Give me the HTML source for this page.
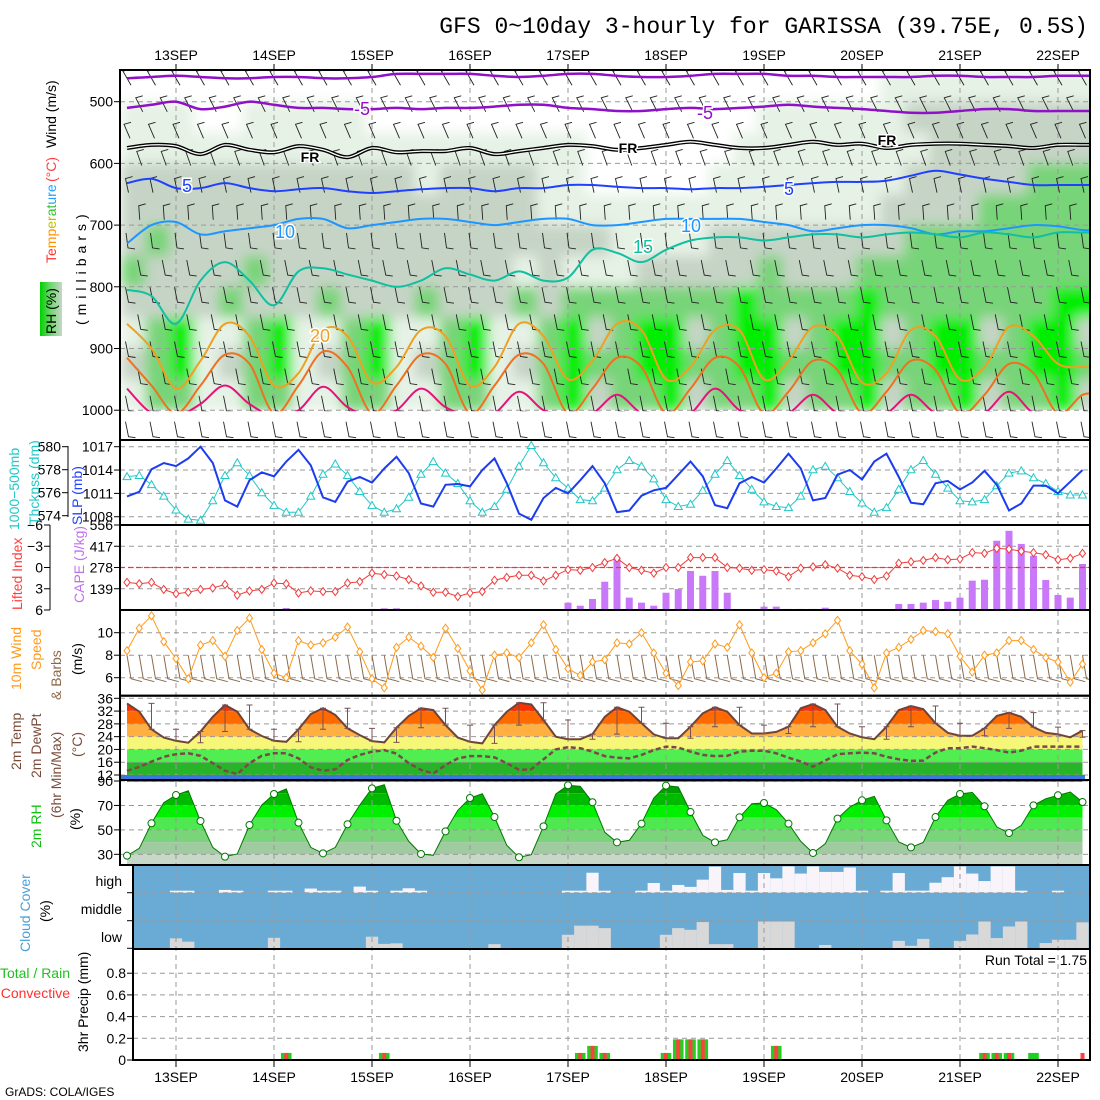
<!DOCTYPE html>
<html><head><meta charset="utf-8"><title>GFS meteogram GARISSA</title>
<style>
html,body{margin:0;padding:0;background:#fff;}
svg{display:block;font-family:"Liberation Sans",sans-serif;}
.t{font-size:14px;fill:#000;}
</style></head>
<body>
<svg id="chart" xmlns="http://www.w3.org/2000/svg" width="1100" height="1100" viewBox="0 0 1100 1100">
<defs>
<clipPath id="cpTop"><rect x="120" y="70" width="970" height="370"/></clipPath>
<clipPath id="cpShade"><rect x="120" y="70" width="970" height="340"/></clipPath>
<clipPath id="cpPanels"><rect x="120" y="440" width="970" height="430"/></clipPath>
<clipPath id="cpLow"><rect x="133" y="865" width="957" height="195"/></clipPath>
<filter id="blur" x="-5%" y="-5%" width="110%" height="110%"><feGaussianBlur stdDeviation="6"/></filter>
<linearGradient id="rhgrad" x1="0" y1="0" x2="1" y2="0"><stop offset="0" stop-color="#00d000"/><stop offset="0.5" stop-color="#70d870"/><stop offset="1" stop-color="#c8d6c8"/></linearGradient>
</defs>
<rect x="0" y="0" width="1100" height="1100" fill="#fff"/>
<text x="1088" y="33" text-anchor="end" style="font-family:'Liberation Mono',monospace;font-size:23px">GFS 0~10day 3-hourly for GARISSA (39.75E, 0.5S)</text>

<g id="gTop" clip-path="url(#cpTop)"></g>
<g id="gPanels" clip-path="url(#cpPanels)"></g>
<g id="gLow" clip-path="url(#cpLow)"></g>
<g id="gAxes"></g>

<g class="t">
<text transform="translate(56,148) rotate(-90)">Wind (m/s)</text>
<text transform="translate(56,182) rotate(-90)" fill="#ff4040">(°C)</text>
<text transform="translate(56,263) rotate(-90)"><tspan fill="#ff3030">Te</tspan><tspan fill="#ff9000">mp</tspan><tspan fill="#c0c000">er</tspan><tspan fill="#30c030">at</tspan><tspan fill="#20a0ff">ure</tspan></text>
<rect x="40" y="282" width="22" height="54" fill="url(#rhgrad)"/>
<text transform="translate(56,334) rotate(-90)">RH (%)</text>
<text transform="translate(86,325) rotate(-90)" letter-spacing="5">(millibars)</text>
<text transform="translate(19,530) rotate(-90)" fill="#20c8c8">1000−500mb</text>
<text transform="translate(39,525) rotate(-90)" fill="#20c8c8">Thcknss (dm)</text>
<text transform="translate(82,525) rotate(-90)" fill="#2040ff">SLP (mb)</text>
<text transform="translate(22,610) rotate(-90)" fill="#ff4040">Lifted Index</text>
<text transform="translate(84,603) rotate(-90)" fill="#c070f0">CAPE (J/kg)</text>
<text transform="translate(21,690) rotate(-90)" fill="#ff9a1a">10m Wind</text>
<text transform="translate(41,670) rotate(-90)" fill="#ff9a1a">Speed</text>
<text transform="translate(61,700) rotate(-90)" fill="#8b6a4a">&amp; Barbs</text>
<text transform="translate(82,675) rotate(-90)">(m/s)</text>
<text transform="translate(21,770) rotate(-90)" fill="#7a4a3a">2m Temp</text>
<text transform="translate(41,778) rotate(-90)" fill="#7a4a3a">2m DewPt</text>
<text transform="translate(61,818) rotate(-90)" fill="#7a4a3a">(6hr Min/Max)</text>
<text transform="translate(82,757) rotate(-90)" fill="#7a4a3a">(°C)</text>
<text transform="translate(41,848) rotate(-90)" fill="#10c010">2m RH</text>
<text transform="translate(80,830) rotate(-90)">(%)</text>
<text transform="translate(30,952) rotate(-90)" fill="#4aa0d8">Cloud Cover</text>
<text transform="translate(50,922) rotate(-90)">(%)</text>
<text x="122" y="886" text-anchor="end">high</text>
<text x="122" y="914" text-anchor="end">middle</text>
<text x="122" y="942" text-anchor="end">low</text>
<text x="70" y="978" text-anchor="end" fill="#20c020">Total / Rain</text>
<text x="70" y="998" text-anchor="end" fill="#ff3030">Convective</text>
<text transform="translate(88,1052) rotate(-90)">3hr Precip (mm)</text>
<text x="1087" y="965" text-anchor="end">Run Total = 1.75</text>
<text x="5" y="1096" style="font-size:12px">GrADS: COLA/IGES</text>
</g>
</svg>

<script>
// ---------- data ----------
var dayLabels = ["13SEP","14SEP","15SEP","16SEP","17SEP","18SEP","19SEP","20SEP","21SEP","22SEP"];
var slp = [1010.6,1011.2,1014.1,1014.9,1014.5,1015.5,1017,1014.9,1010.1,1009.3,1012.7,1013.7,1013.2,1015.1,1016.6,1014.6,1010.5,1009.9,1012.5,1013.1,1012.4,1014.2,1015.7,1013.6,1009.7,1009.3,1012.1,1012.2,1011.9,1014.0,1015.5,1012.3,1008.4,1007.6,1010.4,1011.7,1011.0,1012.7,1014.5,1012.3,1008.6,1008.8,1010.7,1011.4,1011.7,1013.4,1015.1,1013.2,1009.5,1009.1,1012.3,1013.1,1012.4,1014.2,1016.1,1014.2,1010.1,1010.4,1013.4,1014.0,1012.8,1015.1,1016.1,1013.1,1009.8,1009.6,1012.3,1012.6,1011.5,1012.4,1013.9,1012.1,1008.8,1009.7,1012.0,1012.0,1011.0,1012.5,1014.0];
var thickness = [577.4,577.5,576.7,575.7,574.5,573.7,573.6,575.3,577.5,578.6,577.5,576.0,574.9,574.3,574.3,575.7,577.6,578.5,577.5,576.1,574.9,574.3,574.6,575.6,577.6,578.7,577.7,576.8,575.3,574.3,574.8,576.3,578.3,580.1,578.6,577.3,576.4,575.4,575.3,576.4,578.0,578.8,578.3,577.2,575.4,574.8,575.0,576.2,577.6,578.8,577.5,576.3,575.2,574.8,574.7,575.7,578.0,578.3,577.3,576.1,575.1,574.3,574.7,576.3,578.0,578.8,577.6,576.4,575.3,575.2,575.4,576.6,577.7,577.9,577.3,576.8,576.1,575.8,575.8];
var liftedIndex = [2.1,2.3,2.1,3.1,3.7,3.5,3.1,2.9,2.4,3.9,3.3,3.1,2.2,2.3,3.6,3.3,3.4,3.4,2.2,2.0,0.8,1.0,1.2,1.7,2.6,3.5,3.5,4.1,3.6,3.4,1.8,1.4,1.1,1.1,1.9,1.1,0.3,0.4,0.0,-0.7,-1.3,0.0,0.4,0.8,0.0,0.0,-1.4,-1.4,-1.4,0.0,0.1,0.4,0.3,0.5,1.3,0.1,-0.1,-0.4,0.1,1.1,1.3,1.7,1.2,-0.6,-0.8,-1.0,-1.4,-1.1,-1.2,-2.1,-2.0,-2.7,-2.6,-2.3,-2.1,-1.8,-1.1,-1.3,-2.0];
var cape = [7,0,0,0,7,7,7,0,0,0,0,0,7,13,7,0,0,0,0,0,7,11,11,0,0,0,0,0,0,0,5,0,0,0,0,0,48,28,72,185,345,81,48,28,113,137,255,224,255,113,0,0,22,22,7,7,7,15,0,0,0,0,0,39,39,48,65,54,81,192,198,453,518,432,355,196,98,81,301];
var wind10 = [8.4,10.4,11.5,9.2,7.7,5.9,8.9,9.3,7.9,10.2,11.3,8.5,6.4,6.0,9.3,8.9,9.1,9.6,10.5,8.3,5.9,5.1,8.7,9.6,8.8,7.8,10.4,8.6,6.6,4.9,8.0,8.2,7.8,9.1,10.7,8.5,6.8,6.2,7.4,7.6,9.1,9.0,10.0,8.2,6.4,5.3,7.4,7.5,9.0,8.7,10.7,8.2,6.0,6.4,8.3,8.4,9.1,9.9,11.1,8.4,7.2,5.1,8.2,8.7,9.4,10.2,10.1,9.9,7.9,6.5,8.0,8.2,9.3,9.3,8.5,7.8,7.4,5.6,7.2];
var temp2m = [34.4,31.8,26.3,23.7,22.7,22.1,25.6,30.2,33.9,31.8,26.3,24.2,22.7,22.4,26.3,31.1,32.9,30.8,26.6,24.5,22.6,22.2,26.8,30.5,32.9,32.3,27.6,23.7,22.4,21.9,27.6,31.8,34.6,34.1,29.2,24.0,23.2,23.2,24.8,30.2,33.2,31.8,28.2,24.7,23.5,23.5,27.1,31.3,33.2,31.8,27.6,25.0,25.0,25.5,27.1,32.9,34.2,32.3,27.1,25.0,23.8,23.2,27.1,32.3,33.6,32.6,28.2,25.2,24.3,24.3,26.6,30.5,31.5,30.2,27.0,25.2,24.7,23.8,25.9];
var dewpt2m = [13.3,14.5,16.2,17.7,18.5,18.8,18.0,15.7,13.3,12.3,15.7,18.0,18.8,18.8,17.2,14.4,13.3,13.8,16.7,18.3,19.3,19.8,18.7,15.7,13.6,12.5,15.1,17.2,17.9,17.9,17.5,15.7,13.6,13.8,16.9,20.0,20.7,20.4,19.3,17.9,17.4,17.2,18.3,19.8,20.9,20.6,19.3,18.3,17.9,18.0,19.3,19.6,19.6,18.8,17.4,16.2,14.6,16.5,18.5,18.8,19.0,18.8,17.7,16.9,16.4,16.5,19.0,20.4,20.4,20.9,20.4,19.8,19.0,19.6,20.9,20.9,20.9,20.9,20.9];
var rh2m = [28.9,34.9,55.4,72.3,78.5,82.1,57.3,35.7,28.1,30.3,54.0,70.4,79.4,83.5,55.9,35.7,30.8,35.7,54.6,70.4,84.0,87.0,57.5,40.6,30.3,29.2,48.8,66.0,76.1,79.6,60.5,37.4,27.6,29.7,52.9,79.4,86.5,85.6,72.6,48.0,39.8,41.5,55.1,76.1,86.2,85.1,64.6,45.5,39.8,42.0,60.3,71.4,72.0,66.5,55.1,40.6,31.1,38.7,59.2,68.7,74.2,77.5,57.8,40.1,35.7,39.8,60.5,74.2,79.4,80.7,69.3,52.4,47.4,53.7,70.1,75.5,78.3,81.0,72.8];
var cloudHigh = [0,0,0,0,.05,.05,0,0,.1,.05,0,0,.05,.05,0,.15,.05,.05,0,.22,.05,0,.04,.16,.04,0,0,0,0,0,0,0,0,0,0,0,.04,.04,.72,.04,0,0,.04,.35,.04,.28,.21,.47,.94,.1,.71,.06,.71,.52,.95,.69,.95,.75,.75,.91,.06,0,.02,.71,.06,.03,.36,.56,.95,.69,.42,.95,.95,.06,0,0,.05,0,0];
var cloudLow = [0,0,0,0,.36,.24,0,0,0,0,0,0,.38,0,0,0,0,0,0,0,.42,.16,.18,0,0,0,0,0,0,0,.15,0,0,0,0,0,.49,.82,.82,.73,0,0,0,0,.49,.73,.67,.95,.15,.15,0,0,.97,.97,.97,0,0,.12,0,0,0,0,0,.27,.09,.34,0,0,.27,.5,.97,.37,.79,.97,0,.19,.31,.31,.94];
var precipTotal = [0,0,0,0,0,0,0,0,0,0,0,0,0,.065,0,0,0,0,0,0,0,.065,0,0,0,0,0,0,0,0,0,0,0,0,0,0,0,.065,.13,.065,0,0,0,0,.065,.19,.19,.19,0,0,0,0,0,.13,0,0,0,0,0,0,0,0,0,0,0,0,0,0,0,0,.065,.065,.065,0,.065,0,0,0,0];
var precipConv = [0,0,0,0,0,0,0,0,0,0,0,0,0,.065,0,0,0,0,0,0,0,.065,0,0,0,0,0,0,0,0,0,0,0,0,0,0,0,.065,.13,.065,0,0,0,0,.065,.19,.19,.19,0,0,0,0,0,.13,0,0,0,0,0,0,0,0,0,0,0,0,0,0,0,0,.065,.065,.065,0,0,0,0,0,.065];
var rhRows = [
"0000000000000000000000000000000111111111",
"1110011111000000000000000011111122222222",
"1111111111111111111000000111111112222222",
"2222222222221222211000001111111122222333",
"2222222222222222211111111111111222233333",
"2322222222222222222211112222222233333333",
"3222232222222222121112222232223333333333",
"2222322232223222323333333433334333333344",
"1341134113411341134234423442344234423442",
"2341234123412341234334433443344334433443",
"1331133113311331134233423342334233423342"];
var isoM10 = [462,460,458,460,462,462,460,460,462,462,460,455,455,455,455,458,460,458,455,455,458,460,460,458,455,455,455,458,458,460,460,460,460,458,458,460,460,460,458,458];
var isoM5 = [510,505,500,512,508,500,505,510,510,512,512,510,512,510,510,508,505,505,510,512,515,515,512,510,512,510,508,505,508,510,512,515,518,518,515,512,512,515,515,515];
var isoFR = [575,570,572,585,570,578,582,572,578,590,575,582,580,580,575,585,580,575,570,572,578,575,570,565,570,575,575,570,565,570,568,575,570,568,568,570,572,575,570,570];
var iso5 = [632,625,640,640,632,640,645,642,640,645,648,645,642,640,640,645,640,640,635,635,638,640,640,642,640,640,638,635,632,630,630,628,620,612,618,625,630,635,635,635];
var iso10 = [730,700,695,715,710,705,700,690,690,705,700,695,690,690,695,700,695,690,690,700,700,695,690,690,690,690,695,700,710,705,700,700,705,715,710,710,705,700,702,708];
var iso15 = [805,815,860,790,760,790,830,775,770,780,790,800,790,770,780,790,775,790,785,740,745,760,740,725,720,720,725,720,715,715,720,715,712,715,720,712,715,720,712,712];
var iso20 = [860,900,965,920,860,880,960,940,870,880,955,930,870,880,960,930,860,880,950,920,860,870,950,930,870,870,950,920,865,880,955,940,870,880,950,930,865,880,925,930];
var iso25 = [915,960,1005,960,910,925,1005,960,905,930,1005,960,910,925,1005,960,910,925,1005,965,915,930,1005,965,915,930,1005,970,920,935,1005,970,920,935,1005,975,925,940,1005,975];
var iso30 = [965,1005,1010,990,960,990,1010,1000,962,995,1010,1000,965,995,1010,1005,970,1000,1010,1005,975,1005,1010,1005,965,1000,1010,1005,975,1005,1010,1005,975,1005,1010,1005,970,1005,1010,1005];
var barbLevels = [462,505,548,592,636,680,724,768,812,856,900,944,988,1030];
var barbTilt = [-8,-7,-6,-5,-3,-1,2,3,3,3,3,3,3,3];
var pTicks = [500,600,700,800,900,1000];
var slpTicks = [1008,1011,1014,1017];
var thkTicks = [574,576,578,580];
var liTicks = [-6,-3,0,3,6];
var capeTicks = [139,278,417,556];
var windTicks = [6,8,10];
var tempTicks = [12,16,20,24,28,32,36];
var rhTicks = [30,50,70,90];
var precipTicks = [0,0.2,0.4,0.6,0.8];

// ---------- scales ----------
function xOf(i){return 127+12.25*i;}
function yP(p){return 101.7+(p-500)*0.617;}
function ySLP(v){return 446.7+(1017-v)*7.78;}
function yThk(v){return 446.7+(580-v)*11.5;}
function yLI(v){return 525+(v+6)*7.083;}
function yCape(v){return 610-v*85/556;}
function yW(v){return 632.7+(10-v)*11.25;}
function yT(v){return 698.3+(36-v)*3.196;}
function yRH(v){return 781+(90-v)*1.222;}
function yPr(v){return 1060-v*108.5;}

var NS="http://www.w3.org/2000/svg";
function mk(tag,parent,attrs){var e=document.createElementNS(NS,tag);for(var k in attrs)e.setAttribute(k,attrs[k]);parent.appendChild(e);return e;}
var gTop=document.getElementById('gTop'),gP=document.getElementById('gPanels'),gL=document.getElementById('gLow'),gA=document.getElementById('gAxes');
var el;

// ---------- upper-air panel ----------
var shade=mk('g',gTop,{'clip-path':'url(#cpShade)'});


var sh=mk('g',shade,{filter:'url(#blur)'});
var rhCol={'0':'#ffffff','1':'#e6f2e6','2':'#c6d4c6','3':'#78d478','4':'#00ee00'};
rhRows.forEach(function(row,k){
  var p0=450+50*k;
  for(var j=0;j<40;j++){
    var c=row.charAt(j)||'1';
    el=mk('rect',sh,{x:xOf(2*j)-6.2,y:yP(p0),width:24.8,height:yP(p0+50)-yP(p0)+0.5,fill:rhCol[c]});
    
    
  }
});
for(var d=0;d<10;d++){
  el=mk('line',gTop,{x1:xOf(4+8*d),x2:xOf(4+8*d),y1:70,y2:440,stroke:'#999','stroke-dasharray':'5,4','stroke-width':1});
  
  
}
pTicks.forEach(function(p){
  el=mk('line',gTop,{x1:120,x2:1090,y1:yP(p),y2:yP(p),stroke:'#999','stroke-dasharray':'5,4'});
  
  
});
function barbPath(x,y,t,up){
  return up?('M'+(x-t/2)+','+(y+7)+' L'+(x+t/2)+','+(y-7)+' l7,-2'):('M'+(x-t/2)+','+(y-7)+' L'+(x+t/2)+','+(y+8)+' l7,1');
}
var barbG=mk('g',gTop,{stroke:'#222',fill:'none','stroke-width':0.9});


function catmull(pts){
  var s='M'+pts[0][0].toFixed(1)+','+pts[0][1].toFixed(1);
  for(var i=0;i+1<pts.length;i++){
    var p0=pts[Math.max(i-1,0)],p1=pts[i],p2=pts[i+1],p3=pts[Math.min(i+2,pts.length-1)];
    s+=' C'+(p1[0]+(p2[0]-p0[0])/6).toFixed(1)+','+(p1[1]+(p2[1]-p0[1])/6).toFixed(1)+' '+(p2[0]-(p3[0]-p1[0])/6).toFixed(1)+','+(p2[1]-(p3[1]-p1[1])/6).toFixed(1)+' '+p2[0].toFixed(1)+','+p2[1].toFixed(1);
  }
  return s;
}
function isoPath(arr){var pts=arr.map(function(p,j){return [xOf(2*j),yP(p)];});pts.push([1100,yP(arr[arr.length-1])]);return catmull(pts);}
function drawIso(arr,color,w,name){
  el=mk('path',gTop,{d:isoPath(arr),stroke:color,fill:'none','stroke-width':w,'stroke-linejoin':'round'});
  
  
  return el;
}
barbLevels.forEach(function(p,k){
  if(p>1001)return;
  var y=yP(p),t=barbTilt[k];
  for(var i=(k%2);i<80;i+=2){
    el=mk('path',barbG,{d:barbPath(xOf(i),y,t,k<6)});
    
    
  }
});
drawIso(isoM10,'#9010c8',2.5,'isotherm-minus10');
drawIso(isoM5,'#9010c8',2.5,'isotherm-minus5');
drawIso(isoFR,'#000',4,'isotherm-freezing');
el=mk('path',gTop,{d:isoPath(isoFR),stroke:'#fff',fill:'none','stroke-width':1.3});


drawIso(iso5,'#2040ff',2,'isotherm-5');
drawIso(iso10,'#1e96ff',2,'isotherm-10');
drawIso(iso15,'#10c0a0',2,'isotherm-15');
drawIso(iso20,'#f0a020',2,'isotherm-20');
drawIso(iso25,'#f07020',2,'isotherm-25');
drawIso(iso30,'#e8107a',2,'isotherm-30');
el=mk('rect',gTop,{x:120,y:yP(1000)+1,width:970,height:40,fill:'#fff'});


barbLevels.forEach(function(p,k){
  if(p<1001)return;
  var y=yP(p),t=barbTilt[k];
  for(var i=0;i<80;i+=2){
    el=mk('path',gTop,{d:barbPath(xOf(i),y,t,false),stroke:'#222',fill:'none','stroke-width':0.9});
    
    }
});
var isoLabels=[["-5",362,115,'#9010c8'],["-5",705,119,'#9010c8'],["FR",310,162,'#000'],["FR",628,153,'#000'],["FR",887,145,'#000'],["5",187,192,'#2040ff'],["5",789,195,'#2040ff'],["10",285,238,'#1e96ff'],["10",691,232,'#1e96ff'],["15",643,253,'#10c0a0'],["20",320,342,'#f0a020']];
isoLabels.forEach(function(L){
  el=mk('text',gTop,{x:L[1],y:L[2],'text-anchor':'middle',fill:L[3],'font-size':L[0]=='FR'?'14px':'18px','font-weight':L[0]=='FR'?'bold':'normal',stroke:'#fff','stroke-width':3,'paint-order':'stroke'});
  el.textContent=L[0];
  
  
});

// ---------- surface panels ----------
function hline(g,y,x0,x1){el=mk('line',g,{x1:x0,x2:x1,y1:y,y2:y,stroke:'#999','stroke-dasharray':'5,4'});}
function poly(g,arr,fx,fy,attrs,name){var s='';arr.forEach(function(v,i){s+=(i?'L':'M')+fx(i).toFixed(1)+','+fy(v).toFixed(1)+' ';});attrs.d=s;attrs.fill=attrs.fill||'none';el=mk('path',g,attrs);return el;}

var tclip=mk('clipPath',gP,{id:'cpTemp'});
var tp='M'+xOf(0)+',782 ';temp2m.forEach(function(v,i){tp+='L'+xOf(i).toFixed(1)+','+yT(v).toFixed(1)+' ';});tp+='L'+xOf(temp2m.length-1)+',782 Z';
mk('path',tclip,{d:tp});
var tg=mk('g',gP,{'clip-path':'url(#cpTemp)'});


var tBands=[[32,50,'#ff3000'],[28,32,'#ff6a00'],[24,28,'#ffb040'],[20,24,'#f6f678'],[16,20,'#50ee50'],[12,16,'#28b428'],[0,12,'#3a78dc']];
tBands.forEach(function(b){el=mk('rect',tg,{x:120,y:yT(b[1]),width:970,height:yT(b[0])-yT(b[1]),fill:b[2]});});
var rclip=mk('clipPath',gP,{id:'cpRH'});
var rp='M'+xOf(0)+',866 ';rh2m.forEach(function(v,i){rp+='L'+xOf(i).toFixed(1)+','+yRH(v).toFixed(1)+' ';});rp+='L'+xOf(rh2m.length-1)+',866 Z';
mk('path',rclip,{d:rp});
var rg=mk('g',gP,{'clip-path':'url(#cpRH)'});


var rBands=[[80,100,'#009e00'],[70,80,'#00ba00'],[60,70,'#00f000'],[50,60,'#50e850'],[40,50,'#7ad47a'],[30,40,'#a0caa0'],[0,30,'#c8d8c8']];
rBands.forEach(function(b){el=mk('rect',rg,{x:120,y:yRH(b[1]),width:970,height:yRH(b[0])-yRH(b[1]),fill:b[2]});});

for(d=0;d<10;d++){el=mk('line',gP,{x1:xOf(4+8*d),x2:xOf(4+8*d),y1:440,y2:870,stroke:'#999','stroke-dasharray':'5,4'});}
slpTicks.forEach(function(v){hline(gP,ySLP(v),120,1090);});
liTicks.forEach(function(v){hline(gP,yLI(v),120,1090);});
windTicks.forEach(function(v){hline(gP,yW(v),120,1090);});
tempTicks.forEach(function(v){hline(gP,yT(v),120,1090);});
rhTicks.forEach(function(v){hline(gP,yRH(v),120,1090);});

poly(gP,thickness,xOf,yThk,{stroke:'#20c8c8','stroke-width':1},'thickness-line');
thickness.forEach(function(v,i){var x=xOf(i),y=yThk(v);el=mk('path',gP,{d:'M'+x+','+(y-4)+' L'+(x+4)+','+(y+3)+' L'+(x-4)+','+(y+3)+' Z',fill:'#fff',stroke:'#20c8c8'});});
poly(gP,slp,xOf,ySLP,{stroke:'#1c3cf0','stroke-width':2},'slp-line');
cape.forEach(function(v,i){if(!v)return;el=mk('rect',gP,{x:xOf(i)-3.5,y:yCape(v),width:7,height:610-yCape(v),fill:'#c878f8'});});
el=mk('line',gP,{x1:120,x2:1090,y1:yLI(0),y2:yLI(0),stroke:'#ff3030','stroke-dasharray':'5,3','stroke-width':1.3});


poly(gP,liftedIndex,xOf,yLI,{stroke:'#f03c3c','stroke-width':1},'lifted-index-line');
liftedIndex.forEach(function(v,i){var x=xOf(i),y=yLI(v);el=mk('path',gP,{d:'M'+x+','+(y-4)+' L'+(x+3)+','+y+' L'+x+','+(y+4)+' L'+(x-3)+','+y+' Z',fill:'#fff',stroke:'#f03c3c'});});
wind10.forEach(function(v,i){var x=xOf(i);el=mk('path',gP,{d:'M'+x+','+yW(8)+' L'+(x+4)+','+(yW(6)+1)+' L'+(x+15)+','+(yW(6)+4),stroke:'#8b6a4a',fill:'none'});});
poly(gP,wind10,xOf,yW,{stroke:'#ff9a1a','stroke-width':1},'wind-speed-line');
wind10.forEach(function(v,i){var x=xOf(i),y=yW(v);el=mk('path',gP,{d:'M'+x+','+(y-4)+' L'+(x+3)+','+y+' L'+x+','+(y+4)+' L'+(x-3)+','+y+' Z',fill:'#fff',stroke:'#ff9a1a'});});
poly(gP,dewpt2m,xOf,yT,{stroke:'#7a4a4a','stroke-width':2.5,'stroke-dasharray':'5,3'},'dewpoint-line');
poly(gP,temp2m,xOf,yT,{stroke:'#6e4438','stroke-width':2},'temperature-line');
temp2m.forEach(function(v,i){
  if(i<2||i%2)return;
  var w=temp2m.slice(i-2,i+1),mx=Math.max.apply(null,w),mn=Math.min.apply(null,w),x=xOf(i);
  el=mk('path',gP,{d:'M'+(x-3)+','+yT(mx)+' h6 M'+x+','+yT(mx)+' V'+yT(mn)+' M'+(x-3)+','+yT(mn)+' h6',stroke:'#7a5050',fill:'none'});
  
  
});
el=mk('rect',gP,{x:120,y:775,width:965,height:4,fill:'#3a78dc'});


poly(gP,rh2m,xOf,yRH,{stroke:'#007800','stroke-width':1},'rh-line');
rh2m.forEach(function(v,i){if(i%2)return;el=mk('circle',gP,{cx:xOf(i),cy:yRH(v),r:3.5,fill:'#fff',stroke:'#007800'});});

// ---------- cloud & precip ----------
el=mk('rect',gL,{x:133,y:865,width:957,height:83.5,fill:'#6aabd6'});


cloudHigh.forEach(function(v,i){if(!v)return;var h=Math.max(v*27.7,2);el=mk('rect',gL,{x:xOf(i)-6.13,y:892.7-h,width:12.26,height:h,fill:'#f8f4fa'});});
cloudLow.forEach(function(v,i){if(!v)return;var h=v*27.6;el=mk('rect',gL,{x:xOf(i)-6.13,y:948.3-h,width:12.26,height:h,fill:'#d8d8d8'});});
[892.7,920.7].forEach(function(y){hline(gL,y,133,1090);});
precipTicks.forEach(function(v){if(v>0)hline(gL,yPr(v),133,1090);});
for(d=0;d<10;d++){el=mk('line',gL,{x1:xOf(4+8*d),x2:xOf(4+8*d),y1:865,y2:1066,stroke:'#999','stroke-dasharray':'5,4'});}
precipTotal.forEach(function(v,i){if(!v)return;el=mk('rect',gL,{x:xOf(i)-5.3,y:yPr(v),width:10.6,height:1060-yPr(v),fill:'#20d020'});});
precipConv.forEach(function(v,i){if(!v)return;el=mk('rect',gL,{x:xOf(i)-2,y:yPr(v),width:4,height:1060-yPr(v),fill:'#ff4040'});});

// ---------- axes / frames ----------
function frame(x0,y0,x1,y1,name){el=mk('rect',gA,{x:x0,y:y0,width:x1-x0,height:y1-y0,fill:'none',stroke:'#000','stroke-width':2});}
frame(120,70,1090,440,'upper-air-frame');
frame(120,440,1090,525,'slp-frame');
frame(120,525,1090,610,'cape-frame');
frame(120,610,1090,695.7,'wind-frame');
frame(120,695.7,1090,780,'temp-frame');
frame(120,780,1090,865,'rh-frame');
frame(133,865,1090,949,'cloud-frame');
frame(133,949,1090,1060,'precip-frame');
function tickLabels(vals,fy,xLine,name,fmt,color){
  vals.forEach(function(v){var y=fy(v);
    el=mk('line',gA,{x1:xLine-6,x2:xLine,y1:y,y2:y,stroke:'#000'});
    
    
    el=mk('text',gA,{x:xLine-7,y:y+5,'text-anchor':'end','font-size':'14px',fill:color||'#000'});
    el.textContent=fmt?fmt(v):String(v);
    
    });
}
tickLabels(pTicks,yP,120,'pressure');
tickLabels(slpTicks,ySLP,120,'slp');
tickLabels(thkTicks,yThk,68,'thickness');
el=mk('line',gA,{x1:68,x2:68,y1:446,y2:517,stroke:'#000'});


tickLabels(liTicks,yLI,50,'lifted-index',function(v){return v<0?'−'+(-v):String(v);});
el=mk('line',gA,{x1:50,x2:50,y1:525,y2:610,stroke:'#000'});


tickLabels(capeTicks,yCape,120,'cape');
tickLabels(windTicks,yW,120,'wind');
tickLabels(tempTicks,yT,120,'temp');
tickLabels(rhTicks,yRH,120,'rh');
tickLabels(precipTicks,yPr,133,'precip',function(v){return v===0?'0':String(v);});
[892.7,920.7,948.3].forEach(function(y){el=mk('line',gA,{x1:127,x2:133,y1:y,y2:y,stroke:'#000'});});
dayLabels.forEach(function(s,d){var x=xOf(4+8*d);
  el=mk('text',gA,{x:x,y:60,'text-anchor':'middle','font-size':'14px'});el.textContent=s;
  
  
  el=mk('line',gA,{x1:x,x2:x,y1:64,y2:70,stroke:'#000'});
  
  
  el=mk('text',gA,{x:x,y:1082,'text-anchor':'middle','font-size':'14px'});el.textContent=s;
  
  
  el=mk('line',gA,{x1:x,x2:x,y1:1060,y2:1067,stroke:'#000'});
  
  
});
</script>
</body></html>
